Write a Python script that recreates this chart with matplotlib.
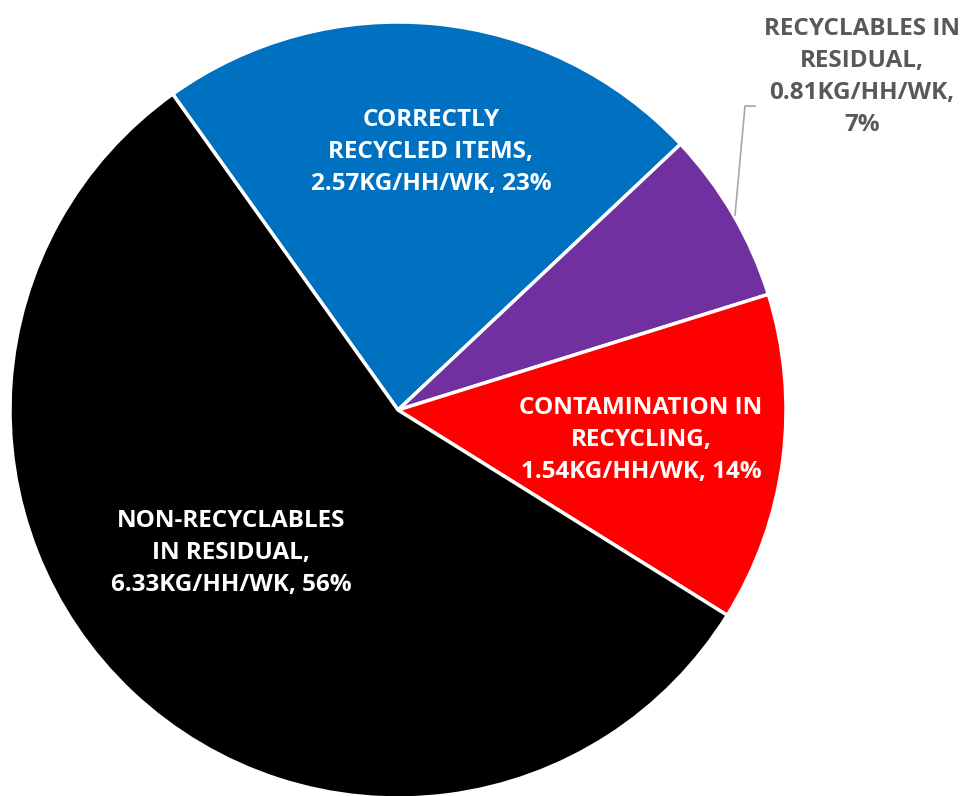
import matplotlib.pyplot as plt

# weekly household waste breakdown
categories = ["CORRECTLY\nRECYCLED ITEMS,", "RECYCLABLES IN\nRESIDUAL,",
              "CONTAMINATION IN\nRECYCLING,", "NON-RECYCLABLES\nIN RESIDUAL,"]
kg_per_week = [2.57, 0.81, 1.54, 6.33]
colors = ["#0070C0", "#7030A0", "#FF0000", "#000000"]

total = sum(kg_per_week)
pcts = [round(v / total * 100) for v in kg_per_week]

fig = plt.figure(figsize=(9.65, 7.96), dpi=100)
ax = fig.add_axes([0, 0, 1, 1])

ax.pie(kg_per_week, colors=colors, startangle=125.5, counterclock=False,
       center=(398, 386), radius=388, frame=True,
       wedgeprops=dict(edgecolor="white", linewidth=2.5))
ax.set_xlim(0, 965)
ax.set_ylim(0, 796)
ax.axis("off")

font = dict(family="Open Sans", weight="bold", fontsize=17.5, ha="center", va="center",
            linespacing=1.45)

# inside labels
ax.text(431, 796 - 152, f"{categories[0]}\n{kg_per_week[0]:.2f}KG/HH/WK, {pcts[0]}%",
        color="white", **font)
ax.text(641, 796 - 440, f"{categories[2]}\n{kg_per_week[2]:.2f}KG/HH/WK, {pcts[2]}%",
        color="white", **font)
ax.text(231, 796 - 553, f"{categories[3]}\n{kg_per_week[3]:.2f}KG/HH/WK, {pcts[3]}%",
        color="white", **font)

# small slice gets an outside label with a leader line
ax.text(862, 796 - 77, "RECYCLABLES IN\nRESIDUAL,\n"
        f"{kg_per_week[1]:.2f}KG/HH/WK,\n{pcts[1]}%",
        color="#595959", **font)
ax.plot([735, 745, 755], [796 - 215, 796 - 106, 796 - 106], color="#A6A6A6", lw=1.2)

fig.savefig("out.png", dpi=100)
